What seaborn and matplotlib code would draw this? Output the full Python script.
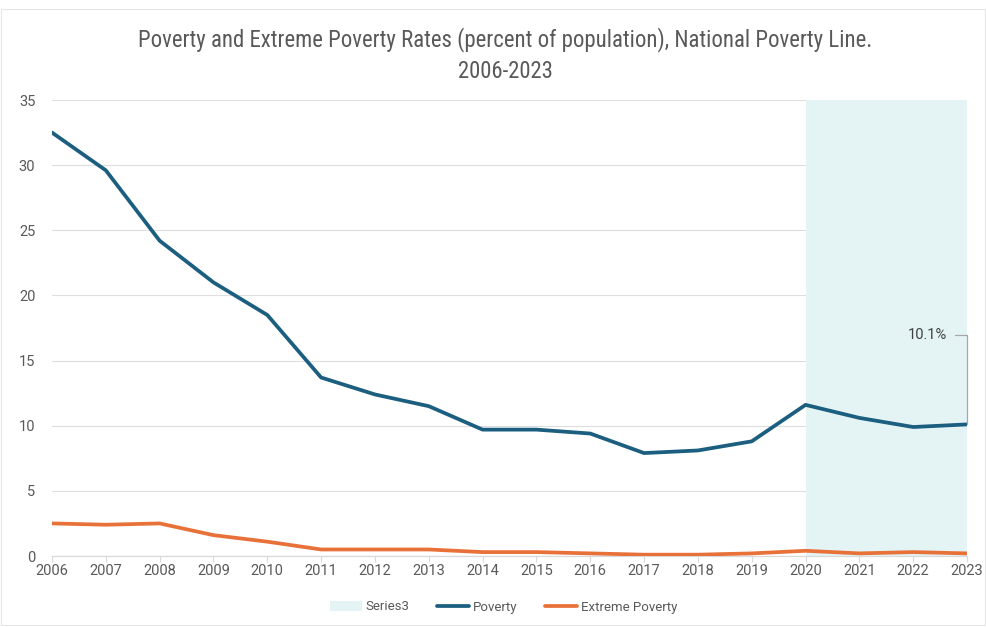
import numpy as np
import pandas as pd
import matplotlib
matplotlib.use("Agg")
import matplotlib.pyplot as plt
import seaborn as sns
from matplotlib.patches import Rectangle, Patch
from matplotlib.lines import Line2D
from matplotlib import font_manager

years = list(range(2006, 2024))
poverty = [32.5, 29.6, 24.2, 21.0, 18.5, 13.7, 12.4, 11.5, 9.7, 9.7, 9.4, 7.9, 8.1, 8.8, 11.6, 10.6, 9.9, 10.1]
extreme_poverty = [2.5, 2.4, 2.5, 1.6, 1.1, 0.5, 0.5, 0.5, 0.3, 0.3, 0.2, 0.1, 0.1, 0.2, 0.4, 0.2, 0.3, 0.2]
series3 = [np.nan] * 14 + [35, 35, 35, 35]
y_ticks = [0, 5, 10, 15, 20, 25, 30, 35]

title = "Poverty and Extreme Poverty Rates (percent of population), National Poverty Line.\n2006-2023"

sns.set_theme(style="white")
plt.rcParams["font.family"] = ["Roboto", "DejaVu Sans"]

installed = {f.name for f in font_manager.fontManager.ttflist}
narrow = [n for n in ["Roboto Condensed", "Liberation Sans Narrow", "Open Sans Condensed"] if n in installed]

grey = "#595959"
c_pov = "#1b5e7f"
c_ext = "#e8713a"
c_shade = "#e4f4f5"

df = pd.DataFrame({"year": years, "Poverty": poverty,
                   "Extreme Poverty": extreme_poverty, "Series3": series3})

fig = plt.figure(figsize=(9.87, 6.27), dpi=100)
ax = fig.add_axes([52 / 987, 1 - 556 / 627, (967 - 52) / 987, (556 - 100) / 627])

# shaded period
s3 = df.dropna(subset=["Series3"])
ax.fill_between(s3["year"], 0, s3["Series3"], color=c_shade, lw=0, zorder=1)

sns.lineplot(data=df, x="year", y="Poverty", ax=ax, color=c_pov, lw=2.7, zorder=3)
sns.lineplot(data=df, x="year", y="Extreme Poverty", ax=ax, color=c_ext, lw=2.7, zorder=3)

ax.set_xlim(2006, 2023)
ax.set_ylim(0, 35)
ax.set_xticks(years)
ax.set_xticklabels([str(y) for y in years])
ax.set_yticks(y_ticks)
ax.set_xlabel("")
ax.set_ylabel("")
ax.grid(axis="y", color="#dedede", lw=0.8, zorder=0)
ax.set_axisbelow(True)
for s in ["top", "right", "left"]:
    ax.spines[s].set_visible(False)
ax.spines["bottom"].set_color("#d9d9d9")
ax.spines["bottom"].set_linewidth(0.9)
ax.tick_params(axis="x", colors=grey, labelsize=10.5, length=4, width=0.8, color="#d9d9d9", pad=2, bottom=True)
ax.tick_params(axis="y", colors=grey, labelsize=10.5, length=0, pad=12)
for lbl in ax.get_xticklabels() + ax.get_yticklabels():
    lbl.set_color(grey)

# callout for the latest value
last_x, last_y = years[-1], poverty[-1]
ax.annotate(f"{last_y:.1f}%", xy=(last_x, last_y), xytext=(2022.63, 17.0),
            ha="right", va="center", fontsize=10.5, color="#404040",
            arrowprops=dict(arrowstyle="-", color="#a6a6a6", lw=0.9,
                            connectionstyle="angle,angleA=0,angleB=90,rad=0",
                            shrinkA=3.5, shrinkB=0), zorder=4)

if narrow:
    fig.text(0.512, 1 - 55 / 627, title, ha="center", va="center", fontsize=16.4,
             color=grey, linespacing=1.45, family=narrow + ["DejaVu Sans"])
else:
    fig.text(0.512, 1 - 55 / 627, title, ha="center", va="center", fontsize=15,
             color=grey, linespacing=1.45, fontstretch="condensed")

handles = [Patch(facecolor=c_shade, edgecolor="none", label="Series3"),
           Line2D([0], [0], color=c_pov, lw=2.7, label="Poverty"),
           Line2D([0], [0], color=c_ext, lw=2.7, label="Extreme Poverty")]
leg = fig.legend(handles=handles, loc="center", bbox_to_anchor=(0.51, 1 - 607 / 627),
                 ncol=3, frameon=False, fontsize=9.5, handlelength=2.4,
                 handletextpad=0.3, columnspacing=2.1)
for t in leg.get_texts():
    t.set_color(grey)

fig.patches.append(Rectangle((1 / 987, 2 / 627), 984 / 987, 616 / 627, transform=fig.transFigure,
                             fill=False, edgecolor="#e6e6e6", lw=0.8))

fig.savefig("out.png", dpi=100, facecolor="white")
